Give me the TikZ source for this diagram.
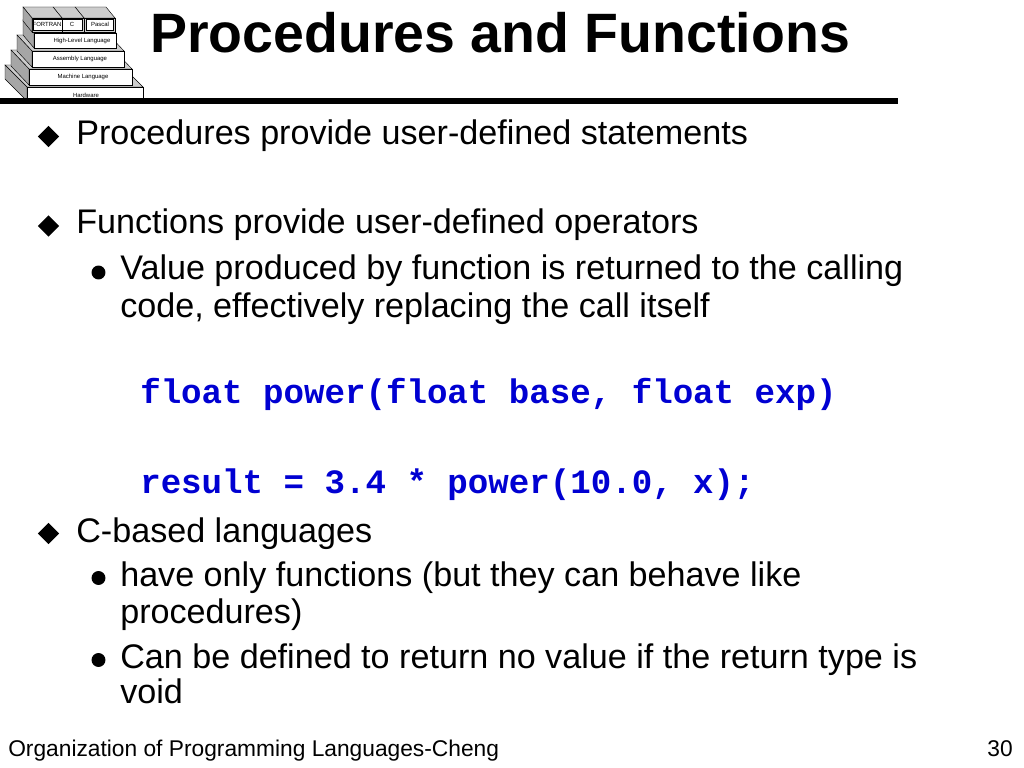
\documentclass[tikz,border=0pt]{standalone}
\usepackage{fontspec}
\setmainfont{Liberation Sans}
\setmonofont{Liberation Mono}
\usepackage{tikz}
\usetikzlibrary{positioning, shapes.geometric}
\definecolor{codeblue}{RGB}{0,0,210}
\tikzstyle{titletext} = [anchor=base west, inner sep=0pt, font=\bfseries\fontsize{39}{45}\selectfont]
\tikzstyle{bodytext} = [anchor=base west, inner sep=0pt, font=\fontsize{24}{28}\selectfont]
\tikzstyle{codetext} = [anchor=base west, inner sep=0pt, text=codeblue, font=\ttfamily\bfseries\fontsize{24}{28}\selectfont]
\tikzstyle{foottext} = [inner sep=0pt, font=\fontsize{16}{19}\selectfont]
\tikzstyle{diabullet} = [diamond, fill=black, inner sep=0pt, minimum size=15pt]
\tikzstyle{dotbullet} = [circle, fill=black, inner sep=0pt, minimum size=9.8pt]
\tikzstyle{front} = [draw=black, line width=0.3pt, fill=white]
\tikzstyle{side} = [draw=black, line width=0.3pt, fill=gray!70]
\tikzstyle{lid} = [draw=black, line width=0.3pt, fill=gray!40]
\tikzstyle{logotext} = [inner sep=0pt, font=\fontsize{4.2}{5}\selectfont]

\begin{document}
\begin{tikzpicture}[x=0.703125pt, y=-0.703125pt]
  \path[use as bounding box, fill=white] (0,0) rectangle (1024,768);

  % Logo: stacked layers
  \foreach \xa/\xb/\ya/\yb/\dx/\dy in {27/143/87/101/-22/-22, 29/132/69/85/-18/-19, 32/124/51/67/-15/-16, 34/116/33/48/-11/-13}
  {
    \draw[lid] (\xa,\ya) -- (\xb,\ya) -- ++(\dx,\dy) -- (\xa+\dx,\ya+\dy) -- cycle;
    \draw[side] (\xa,\ya) -- (\xa,\yb) -- ++(\dx,\dy) -- (\xa+\dx,\ya+\dy) -- cycle;
    \draw[front] (\xa,\ya) rectangle (\xb,\yb);
  }
  \foreach \xa/\xb in {84/115, 62/84, 32/62}
  {
    \draw[lid] (\xa,18) -- (\xb,18) -- ++(-9,-11) -- (\xa-9,7) -- cycle;
    \draw[lid] (\xa,18) rectangle (\xb,32);
  }
  \draw[side] (32,18) -- (32,32) -- (23,21) -- (23,7) -- cycle;
  \draw[front] (33,19) rectangle (62,30);
  \draw[front] (62,19) rectangle (82,30);
  \draw[front] (86,19) rectangle (113,30);
  \node[logotext] (fortran) at (47,24.5) {FORTRAN};
  \node[logotext] (clang) at (72,24.5) {C};
  \node[logotext] (pascal) at (100,24.5) {Pascal};
  \node[logotext] (highlevel) at (82,41) {High-Level Language};
  \node[logotext] (assembly) at (80,59) {Assembly Language};
  \node[logotext] (machine) at (83,77) {Machine Language};
  \node[logotext] (hardware) at (86,95) {Hardware};

  % Title and rule
  \node[titletext] (title) at (150,53) {Procedures and Functions};
  \draw[line width=4pt] (0,101) -- (898,101);

  % Bullets
  \node[diabullet] (d1) at (48.5,136.5) {};
  \node[bodytext] (t1) at (76,145) {Procedures provide user-defined statements};
  \node[diabullet] (d2) at (48.5,226) {};
  \node[bodytext] (t2) at (76,234) {Functions provide user-defined operators};
  \node[dotbullet] (s1) at (98.5,272.5) {};
  \node[bodytext] (t3) at (120,280) {Value produced by function is returned to the calling};
  \node[bodytext] (t4) at (120,317) {code, effectively replacing the call itself};
  \node[codetext] (c1) at (140,403) {float power(float base, float exp)};
  \node[codetext] (c2) at (140,493) {result = 3.4 * power(10.0, x);};
  \node[diabullet] (d3) at (48.5,533.5) {};
  \node[bodytext] (t5) at (76,542) {C-based languages};
  \node[dotbullet] (s2) at (98.5,578) {};
  \node[bodytext] (t6) at (120,586) {have only functions (but they can behave like};
  \node[bodytext] (t7) at (120,623) {procedures)};
  \node[dotbullet] (s3) at (98.5,660) {};
  \node[bodytext] (t8) at (120,668) {Can be defined to return no value if the return type is};
  \node[bodytext] (t9) at (120,703) {void};

  % Footer
  \node[foottext, anchor=base west] (footer) at (8,756) {Organization of Programming Languages-Cheng};
  \node[foottext, anchor=base east] (page) at (1013,756) {30};
\end{tikzpicture}
\end{document}
